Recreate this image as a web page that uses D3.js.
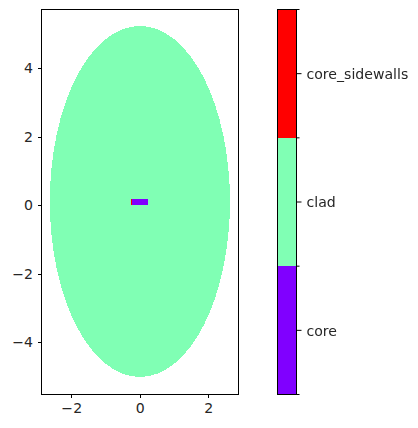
<!DOCTYPE html>
<html><head><meta charset="utf-8">
<script src="https://cdn.jsdelivr.net/npm/d3@7"></script>
<style>html,body{margin:0;padding:0;background:#fff}svg{display:block}
.lab{opacity:0.999}
text{font-family:"DejaVu Sans";font-size:14.1px;fill:#262626}</style></head>
<body><svg id="c" width="418" height="428"></svg>
<script>
const xDomain=[-2.883,2.869];
const yDomain=[-5.511,5.73];
const xTicks=[-2,0,2];
const yTicks=[-4,-2,0,2,4];
const cladEllipse={cx:-0.01,cy:0.125,rx:2.63,ry:5.125};
const coreRect={x0:-0.26,x1:0.235,y0:0.03,y1:0.2};
const sidewallRect={x0:-0.26,x1:-0.235,y0:0.03,y1:0.2};
const materials=["core","clad","core_sidewalls"];
const materialColors=["#8000ff","#80ffb4","#ff0000"];
const minus=t=>String(t).replace("-","\u2212");

const svg=d3.select("#c");
const x=d3.scaleLinear().domain(xDomain).range([41.5,238.5]);
const y=d3.scaleLinear().domain(yDomain).range([394.5,9.5]);
const cb=d3.scaleLinear().domain([0,3]).range([394.5,9.5]);

const g=svg.append("g");
g.append("ellipse").attr("cx",x(cladEllipse.cx)).attr("cy",y(cladEllipse.cy))
 .attr("rx",x(cladEllipse.rx)-x(0)).attr("ry",y(0)-y(cladEllipse.ry))
 .attr("fill",materialColors[1]).attr("shape-rendering","crispEdges");
for(const [r,c] of [[coreRect,0],[sidewallRect,2]]){
 g.append("rect").attr("x",x(r.x0)).attr("y",y(r.y1)).attr("width",x(r.x1)-x(r.x0)).attr("height",y(r.y0)-y(r.y1))
  .attr("fill",materialColors[c]).attr("shape-rendering","crispEdges");
}
function style(a){a.attr("class","lab");a.selectAll(".tick line").attr("stroke","#000").attr("stroke-width",1).attr("shape-rendering","crispEdges");a.selectAll("path.domain").remove();}
const fmt=t=>minus(t);
svg.append("g").attr("transform","translate(0,394.5)").call(d3.axisBottom(x).offset(0).tickValues(xTicks).tickFormat(fmt).tickSize(3.5).tickPadding(5)).call(style);
svg.append("g").attr("transform","translate(41.5,0)").call(d3.axisLeft(y).offset(0).tickValues(yTicks).tickFormat(fmt).tickSize(3.5).tickPadding(5)).call(style);
svg.append("rect").attr("x",41.5).attr("y",9.5).attr("width",197).attr("height",385).attr("fill","none").attr("stroke","#000").attr("stroke-width",1);

const bx=277.5,bw=19;
materials.forEach((m,i)=>{
 svg.append("rect").attr("x",bx).attr("y",cb(i+1)).attr("width",bw).attr("height",cb(i)-cb(i+1)).attr("fill",materialColors[i]).attr("shape-rendering","crispEdges");
});
svg.append("rect").attr("x",bx).attr("y",9.5).attr("width",bw).attr("height",385).attr("fill","none").attr("stroke","#000");
const edge=d3.range(0,4);
svg.append("g").selectAll("line").data(edge).join("line").attr("x1",bx+bw).attr("x2",bx+bw+3).attr("y1",d=>cb(d)).attr("y2",d=>cb(d)).attr("stroke","#000");
const mid=svg.append("g").attr("class","lab").selectAll("g").data(materials).join("g").attr("transform",(d,i)=>`translate(${bx+bw},${cb(i+0.5)})`);
mid.append("line").attr("x2",5).attr("stroke","#000");
mid.append("text").attr("x",10).attr("y",0.2).attr("dy","0.36em").text(d=>d);
</script></body></html>
